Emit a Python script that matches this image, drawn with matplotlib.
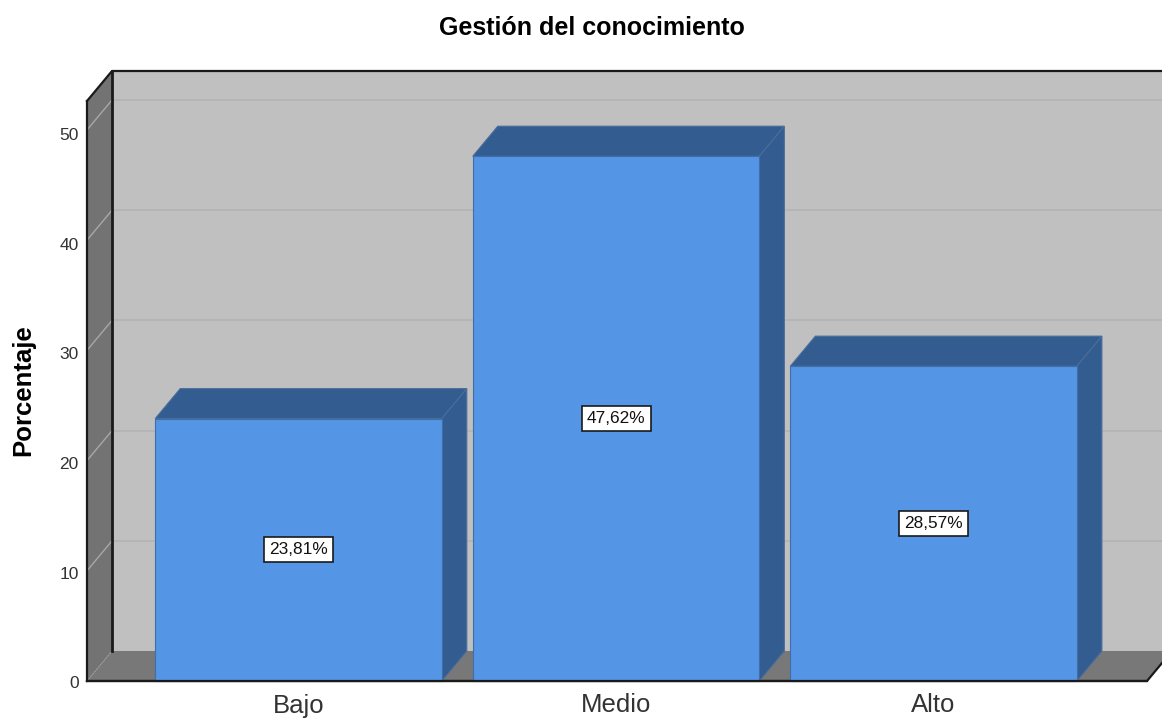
import matplotlib
matplotlib.use('Agg')
import matplotlib.pyplot as plt

plt.rcParams['font.family'] = ['Liberation Sans', 'DejaVu Sans']

categorias = ['Bajo', 'Medio', 'Alto']
porcentajes = [23.81, 47.62, 28.57]
etiquetas = ['23,81%', '47,62%', '28,57%']
marcas_y = [0, 10, 20, 30, 40, 50]

W, H = 1162, 720
fig = plt.figure(figsize=(W / 100, H / 100), dpi=100)
# plano frontal del grafico: x 87-1147, y 101-681 en pixeles
ax = fig.add_axes([87 / W, 1 - 681 / H, 1060 / W, 580 / H])
ax.set_xlim(-0.666, 2.672)
ax.set_ylim(0, 52.63)
x0, x1 = ax.get_xlim()
y0, y1 = ax.get_ylim()
# profundidad del efecto 3D en unidades de datos
dx = 25 / 317.5
dy = 30 / 11.02
ancho = 286.5 / 317.5

for s in ax.spines.values():
    s.set_visible(False)
ax.patch.set_visible(False)

# paredes
ax.fill([x0 + dx, x1 + dx, x1 + dx, x0 + dx], [y0 + dy, y0 + dy, y1 + dy, y1 + dy],
        color='#c0c0c0', lw=0, clip_on=False, zorder=1)
ax.fill([x0, x0 + dx, x0 + dx, x0], [y0, y0 + dy, y1 + dy, y1],
        color='#737373', lw=0, clip_on=False, zorder=1)
ax.fill([x0, x1, x1 + dx, x0 + dx], [y0, y0, y0 + dy, y0 + dy],
        color='#787878', lw=0, clip_on=False, zorder=1)

# rejilla
for v in marcas_y[1:]:
    ax.plot([x0, x0 + dx], [v, v + dy], color='#a8a8a8', lw=1, clip_on=False, zorder=2)
    ax.plot([x0 + dx, x1 + dx], [v + dy, v + dy], color='#b3b3b3', lw=1.2,
            clip_on=False, zorder=2)
ax.plot([x0, x0 + dx], [0, dy], color='#a0a0a0', lw=0.8, ls=':', clip_on=False, zorder=2)

# bordes
ax.plot([x0 + dx, x0 + dx], [y0 + dy, y1 + dy], color='#1a1a1a', lw=2, clip_on=False, zorder=3)
ax.plot([x0, x0 + dx, x1 + dx], [y1, y1 + dy, y1 + dy], color='#1a1a1a', lw=1.6, clip_on=False, zorder=3)
ax.plot([x0, x0], [y0, y1], color='#1a1a1a', lw=1.6, clip_on=False, zorder=3)
ax.plot([x0, x1, x1 + dx], [y0, y0, y0 + dy], color='#1a1a1a', lw=1.6, clip_on=False, zorder=3)

# barras
for i, v in enumerate(porcentajes):
    izq = i - ancho / 2
    der = i + ancho / 2
    ax.fill([izq, der, der + dx, izq + dx], [v, v, v + dy, v + dy],
            facecolor='#335c90', edgecolor='#4a6d9a', lw=0.8, clip_on=False, zorder=4)
    ax.fill([der, der + dx, der + dx, der], [0, dy, v + dy, v],
            facecolor='#335c90', edgecolor='#4a6d9a', lw=0.8, clip_on=False, zorder=4)
ax.bar(range(3), porcentajes, width=ancho, color='#5495e5', edgecolor='#3f6ea8', lw=0.8,
       zorder=5, clip_on=False)
ax.plot([x0, x1], [y0, y0], color='#1a1a1a', lw=1.6, clip_on=False, zorder=6)

for i, v in enumerate(porcentajes):
    ax.text(i, v / 2, etiquetas[i], ha='center', va='center', fontsize=12.4, zorder=7,
            color='#111111',
            bbox=dict(boxstyle='square,pad=0.3', fc='white', ec='#1a1a1a', lw=1.2))

ax.set_xticks(range(3))
ax.set_xticklabels(categorias, fontsize=18.5, color='#333333')
ax.set_yticks([])
ax.tick_params(axis='x', length=0, pad=9)

# las etiquetas del eje y van un poco mas juntas que la rejilla, como en el original
k = 109.6 / 110.2
for v in marcas_y:
    ax.annotate(str(v), xy=(x0, v * k), xytext=(-6, -2), textcoords='offset points',
                ha='right', va='center', fontsize=12.5, color='#333333')

fig.text(592 / W, 1 - 28 / H, 'Gestión del conocimiento', ha='center', va='center',
         fontsize=18, fontweight='bold')
fig.text(23 / W, 1 - 390 / H, 'Porcentaje', rotation=90, ha='center', va='center',
         fontsize=18.5, fontweight='bold')

fig.savefig('out.png', dpi=100)
